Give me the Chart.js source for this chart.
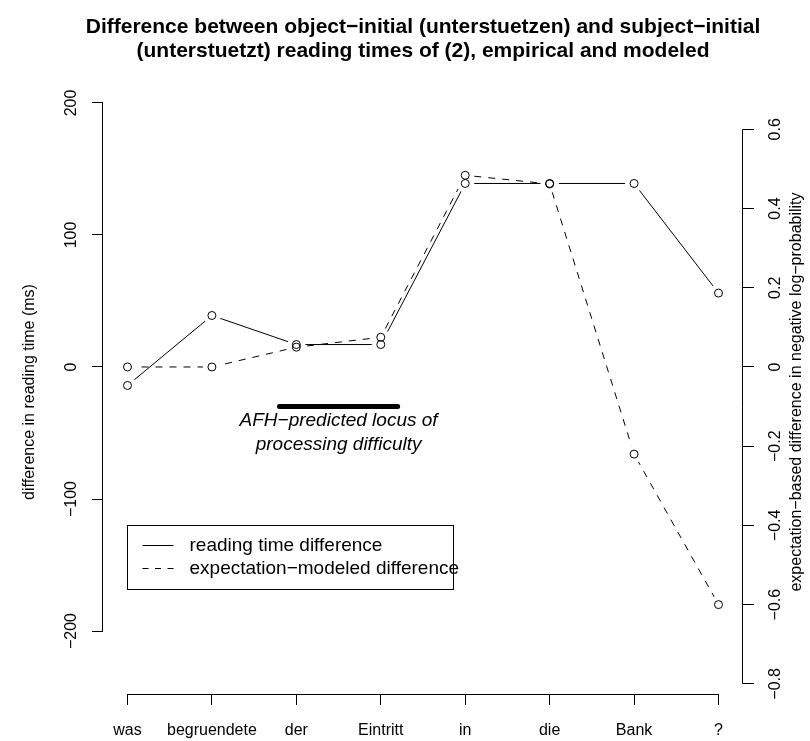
<!DOCTYPE html>
<html>
<head>
<meta charset="utf-8">
<script src="https://cdn.jsdelivr.net/npm/chart.js@4.4.0/dist/chart.umd.min.js"></script>
<style>
  html, body { margin: 0; padding: 0; background: #fff; }
</style>
</head>
<body>
<canvas id="readingTimeChart" width="810" height="741"></canvas>
<script>
// words of the sentence (x axis)
const words = ['was', 'begruendete', 'der', 'Eintritt', 'in', 'die', 'Bank', '?'];
// empirical reading time difference (ms), left axis
const rtDiff = [-14, 39, 17, 17, 139, 139, 139, 56];
// expectation-modeled difference (neg. log-probability), right axis
const logProbDiff = [0, 0, 0.05, 0.075, 0.484, 0.462, -0.22, -0.6];
const leftTicks = [-200, -100, 0, 100, 200];
const rightTicks = [-0.8, -0.6, -0.4, -0.2, 0, 0.2, 0.4, 0.6];
const legendLabels = ['reading time difference', 'expectation\u2212modeled difference'];
const titleLines = [
  'Difference between object\u2212initial (unterstuetzen) and subject\u2212initial',
  '(unterstuetzt) reading times of (2), empirical and modeled'
];
const locusLines = ['AFH\u2212predicted locus of', 'processing difficulty'];
const locusSpan = [2.8, 4.2];

const FONT = "'Liberation Sans', Arial, Helvetica, sans-serif";
const msPerUnit = 300;   // right axis = left axis / 300
const yMin = -247.7, yMax = 209.8;

const fmt = v => (v < 0 ? '\u2212' : '') + String(Math.abs(v));

// R-style axes, labels, legend and annotation
const rDecor = {
  id: 'rDecor',
  afterDraw(chart) {
    const { ctx, chartArea } = chart;
    const { x, y, y2 } = chart.scales;
    const midY = (chartArea.top + chartArea.bottom) / 2;
    ctx.save();
    ctx.strokeStyle = '#000';
    ctx.fillStyle = '#000';
    ctx.lineWidth = 1;

    // axis lines from first to last tick
    const lx = Math.round(chartArea.left) - 0.5;
    const rx = Math.round(chartArea.right) - 0.5;
    const by = Math.round(chartArea.bottom) + 0.5;
    ctx.beginPath();
    ctx.moveTo(lx, y.getPixelForValue(leftTicks[0]));
    ctx.lineTo(lx, y.getPixelForValue(leftTicks[leftTicks.length - 1]));
    ctx.moveTo(rx, y2.getPixelForValue(rightTicks[0]));
    ctx.lineTo(rx, y2.getPixelForValue(rightTicks[rightTicks.length - 1]));
    ctx.moveTo(x.getPixelForValue(1), by);
    ctx.lineTo(x.getPixelForValue(words.length), by);
    ctx.stroke();

    // rotated tick labels and axis titles
    const vText = (txt, px, py, font) => {
      ctx.save();
      ctx.translate(px, py);
      ctx.rotate(-Math.PI / 2);
      ctx.font = font;
      ctx.textAlign = 'center';
      ctx.textBaseline = 'alphabetic';
      ctx.fillText(txt, 0, 0);
      ctx.restore();
    };
    const f16 = '16px ' + FONT;
    leftTicks.forEach(v => vText(fmt(v), 76, y.getPixelForValue(v), f16));
    rightTicks.forEach(v => vText(fmt(v), 780, y2.getPixelForValue(v), f16));
    vText('difference in reading time (ms)', 34, midY, f16);
    vText('expectation\u2212based difference in negative log\u2212probability', 801, midY, f16);

    // main title
    ctx.font = 'bold 21px ' + FONT;
    ctx.textAlign = 'center';
    ctx.textBaseline = 'middle';
    const cx = (chartArea.left + chartArea.right) / 2;
    titleLines.forEach((t, i) => ctx.fillText(t, cx, 27 + i * 24));

    // AFH locus bar and text
    const ly = y.getPixelForValue(-30);
    ctx.lineWidth = 5;
    ctx.lineCap = 'round';
    ctx.beginPath();
    ctx.moveTo(x.getPixelForValue(locusSpan[0]), ly);
    ctx.lineTo(x.getPixelForValue(locusSpan[1]), ly);
    ctx.stroke();
    ctx.font = 'italic 19px ' + FONT;
    const tx = x.getPixelForValue((locusSpan[0] + locusSpan[1]) / 2);
    const ty = y.getPixelForValue(-50);
    ctx.fillText(locusLines[0], tx, ty - 12);
    ctx.fillText(locusLines[1], tx, ty + 12);

    // legend box
    ctx.font = '19px ' + FONT;
    ctx.lineCap = 'butt';
    ctx.lineWidth = 1;
    const bx = Math.round(x.getPixelForValue(1)) + 0.5;
    const bt = Math.round(y.getPixelForValue(-120)) + 0.5;
    const textX = bx + 62;
    const w = Math.max(...legendLabels.map(s => ctx.measureText(s).width));
    ctx.strokeRect(bx, bt, Math.round(textX + w - 6 - bx), 64);
    ctx.textAlign = 'left';
    legendLabels.forEach((lab, i) => {
      const ry = bt + 20 + i * 23;
      ctx.setLineDash(i === 0 ? [] : [6, 6.5]);
      ctx.beginPath();
      ctx.moveTo(bx + 15, ry);
      ctx.lineTo(bx + 46, ry);
      ctx.stroke();
      ctx.fillText(lab, textX, ry);
    });
    ctx.restore();
  }
};

const toPts = arr => arr.map((v, i) => ({ x: i + 1, y: v }));
const tickGrid = { drawOnChartArea: false, drawTicks: true, tickLength: 11, color: '#000', lineWidth: 1 };

const chart = new Chart(document.getElementById('readingTimeChart').getContext('2d'), {
  type: 'line',
  data: {
    datasets: [
      // lines
      { data: toPts(rtDiff), yAxisID: 'y', borderColor: '#000', borderWidth: 1, pointRadius: 0, tension: 0, order: 3 },
      { data: toPts(logProbDiff), yAxisID: 'y2', borderColor: '#000', borderWidth: 1, borderDash: [7, 7], pointRadius: 0, tension: 0, order: 3 },
      // white gaps round the points, like type = "b"
      { data: toPts(rtDiff), yAxisID: 'y', showLine: false, pointRadius: 9, pointBackgroundColor: '#fff', pointBorderColor: 'rgba(0,0,0,0)', pointBorderWidth: 0, order: 2 },
      { data: toPts(logProbDiff), yAxisID: 'y2', showLine: false, pointRadius: 9, pointBackgroundColor: '#fff', pointBorderColor: 'rgba(0,0,0,0)', pointBorderWidth: 0, order: 2 },
      // open circles
      { data: toPts(rtDiff), yAxisID: 'y', showLine: false, pointRadius: 4, pointBackgroundColor: 'rgba(0,0,0,0)', pointBorderColor: '#000', pointBorderWidth: 1, order: 1 },
      { data: toPts(logProbDiff), yAxisID: 'y2', showLine: false, pointRadius: 4, pointBackgroundColor: 'rgba(0,0,0,0)', pointBorderColor: '#000', pointBorderWidth: 1, order: 1 }
    ]
  },
  options: {
    responsive: false,
    animation: false,
    events: [],
    layout: { padding: { top: 90, left: 0, right: 0, bottom: 0 } },
    plugins: { legend: { display: false }, title: { display: false }, tooltip: { enabled: false } },
    scales: {
      x: {
        type: 'linear',
        min: 0.71,
        max: 8.29,
        afterBuildTicks: s => { s.ticks = words.map((w, i) => ({ value: i + 1 })); },
        afterFit: s => { s.height = 47; },
        grid: tickGrid,
        border: { display: false },
        ticks: {
          callback: v => words[v - 1],
          font: { family: FONT, size: 16 },
          color: '#000',
          padding: 16,
          maxRotation: 0,
          autoSkip: false
        }
      },
      y: {
        position: 'left',
        min: yMin,
        max: yMax,
        afterBuildTicks: s => { s.ticks = leftTicks.map(v => ({ value: v })); },
        afterFit: s => { s.width = 103; },
        grid: tickGrid,
        border: { display: false },
        ticks: { display: false }
      },
      y2: {
        position: 'right',
        min: yMin / msPerUnit,
        max: yMax / msPerUnit,
        afterBuildTicks: s => { s.ticks = rightTicks.map(v => ({ value: v })); },
        afterFit: s => { s.width = 67; },
        grid: tickGrid,
        border: { display: false },
        ticks: { display: false }
      }
    }
  },
  plugins: [rDecor]
});
</script>
</body>
</html>
